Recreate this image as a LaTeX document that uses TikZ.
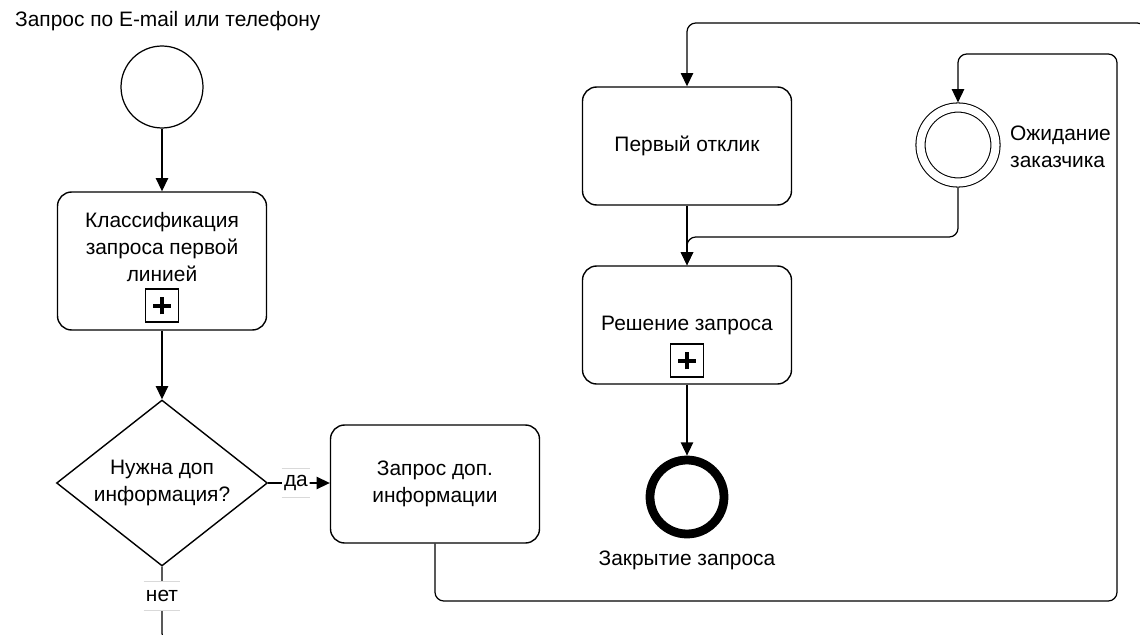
\documentclass[tikz,border=0pt]{standalone}
\usepackage{fontspec}
\setmainfont{Liberation Sans}
\usetikzlibrary{shapes.geometric,arrows.meta,positioning}
\begin{document}
\begin{tikzpicture}[x=0.02cm,y=-0.02cm,
    font=\fontsize{11.9}{15.6}\selectfont,
    task/.style={draw,line width=0.8pt,rounded corners=8pt,minimum width=4.18cm,minimum height=2.36cm,align=center},
    gate/.style={draw,diamond,aspect=1.27,line width=0.8pt,minimum width=4.22cm,minimum height=3.32cm,align=center,inner sep=0pt},
    startev/.style={draw,circle,line width=0.7pt,minimum size=1.64cm},
    waitev/.style={draw,circle,line width=0.6pt,double,double distance=4.6pt,minimum size=1.5cm,outer sep=2.9pt},
    endev/.style={draw,circle,line width=5pt,minimum size=1.48cm},
    plusbox/.style={draw,line width=0.7pt,minimum size=0.66cm,inner sep=0pt,
        path picture={\draw[line width=2.2pt] ([xshift=-5pt]path picture bounding box.center) -- ([xshift=5pt]path picture bounding box.center)
            ([yshift=-5pt]path picture bounding box.center) -- ([yshift=5pt]path picture bounding box.center);}},
    flow/.style={line width=0.7pt,-{Triangle[length=7.5pt,width=7pt]},rounded corners=5pt},
    cond/.style={fill=white,inner sep=1pt,minimum height=0.56cm},
    condline/.style={gray!30,line width=0.6pt}]
    \useasboundingbox (0,0) rectangle (1140,635);
    \clip (0,0) rectangle (1140,635);
    \node[anchor=base west] (startlbl) at (9,27) {Запрос по E-mail или телефону};
    \node[startev] (start) at (162,87) {};
    \node[task,minimum height=2.76cm] (cls) at (162,261) {};
    \node[align=center] (clstext) at (162,247) {Классификация\\запроса первой\\линией};
    \node[plusbox,above=0.16cm of cls.south] (clsplus) {};
    \node[gate] (dec) at (162,483) {Нужна доп\\информация?};
    \node[task] (ask) at (435,484) {Запрос доп.\\информации};
    \node[task] (first) at (687,146) {Первый отклик};
    \node[task] (res) at (687,325) {Решение запроса};
    \node[plusbox,above=0.14cm of res.south] (resplus) {};
    \node[endev] (close) at (687,497) {};
    \node[anchor=base] (closelbl) at (687,565) {Закрытие запроса};
    \node[waitev] (wait) at (958,145) {};
    \node[anchor=west,align=left] (waitlbl) at (1004,147) {Ожидание\\заказчика};
    \coordinate (loopbr) at (1117,601);
    \coordinate (looptr) at (1117,54);
    \coordinate (merge) at (687,237);
    \coordinate (nobl) at (162,642);
    \coordinate (nobr) at (1146,642);
    \coordinate (notr) at (1146,23);
    \draw[flow] (start) -- (cls);
    \draw[flow] (cls) -- (dec);
    \draw[flow] (dec.east) -- node[cond,pos=0.45] (yes) {да} (dec.east -| ask.west);
    \draw[flow] (dec.south) -- node[cond,pos=0.39] (no) {нет} (nobl) -- (nobr) -- (notr) -| (first.north);
    \draw[flow] (ask.south) |- (loopbr) -- (looptr) -| (wait.north);
    \draw[flow] (wait.south) |- (merge) -- (res.north);
    \draw[flow] (first) -- (res);
    \draw[flow] (res) -- (close);
    \draw[condline] (yes.north west) -- (yes.north east) (yes.south west) -- (yes.south east);
    \draw[condline] (no.north west) -- (no.north east) (no.south west) -- (no.south east);
\end{tikzpicture}
\end{document}
